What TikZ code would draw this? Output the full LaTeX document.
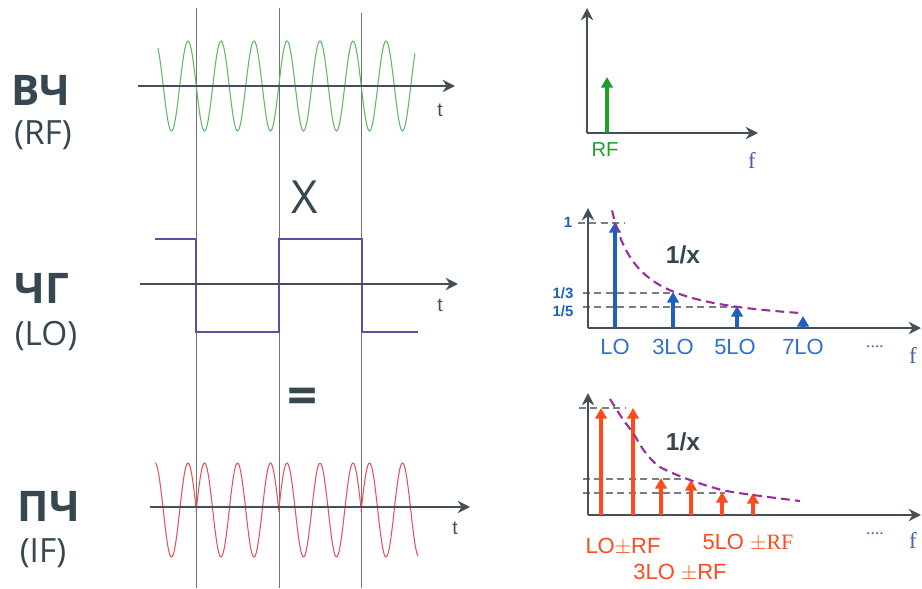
\documentclass[tikz,border=0pt]{standalone}
\usepackage{fontspec}
\setmainfont{Liberation Sans}
\newfontfamily\bigfont{Open Sans}
\newfontfamily\seriffont{Liberation Serif}
\usepackage{tikz}
\usetikzlibrary{arrows.meta}
\definecolor{textgray}{HTML}{37474F}
\definecolor{axisgray}{HTML}{454F57}
\definecolor{gridgray}{HTML}{6E7276}
\definecolor{dashgray}{HTML}{7A7E82}
\definecolor{rfgreen}{HTML}{5DB85F}
\definecolor{spgreen}{HTML}{1E9E28}
\definecolor{lopurple}{HTML}{5B4FA3}
\definecolor{ifred}{HTML}{E8505A}
\definecolor{spblue}{HTML}{1F5FBF}
\definecolor{lblblue}{HTML}{2F6FD0}
\definecolor{spred}{HTML}{FF4A1C}
\definecolor{curvepurple}{HTML}{9A2C9E}
\definecolor{fblue}{HTML}{4A5DB0}

\begin{document}
\begin{tikzpicture}[x=0.02cm, y=-0.02cm,
  axisarr/.style={-{Stealth[length=7pt,width=7pt]}, line width=1.6pt, draw=axisgray},
  gridline/.style={draw=gridgray, line width=0.45pt},
  waveline/.style={line width=0.6pt},
  specarr/.style={-{Triangle[length=6pt,width=6.5pt]}, line width=1.9pt},
  levelline/.style={dash pattern=on 4pt off 2.5pt, draw=dashgray, line width=0.9pt},
  envline/.style={dash pattern=on 5pt off 3pt, draw=curvepurple, line width=1.2pt},
  namelabel/.style={font=\bigfont\bfseries\fontsize{24}{24}\selectfont, text=textgray},
  sublabel/.style={font=\bigfont\fontsize{19}{19}\selectfont, text=textgray},
  tlabel/.style={font=\fontsize{11}{11}\selectfont, text=axisgray},
  flabel/.style={font=\seriffont\fontsize{13}{13}\selectfont, text=fblue},
  hlabel/.style={font=\fontsize{12.5}{12.5}\selectfont},
  xlabel/.style={font=\bfseries\fontsize{14}{14}\selectfont, text=textgray}
]
\useasboundingbox (0,0) rectangle (922,588);

% left names
\node[namelabel] (rfname) at (41,90) {ВЧ};
\node[sublabel] (rfsub) at (43,135) {(RF)};
\node[namelabel] (loname) at (42,288) {ЧГ};
\node[sublabel] (losub) at (46,336) {(LO)};
\node[namelabel] (ifname) at (49,506) {ПЧ};
\node[sublabel] (ifsub) at (43,553) {(IF)};

% time grid
\foreach \x/\t in {196/8, 279/8, 361/13}
  \draw[gridline] (\x,\t) -- (\x,588);

% RF wave
\coordinate (rf0) at (138,86);
\coordinate (rf1) at (455,86);
\draw[waveline, rfgreen] plot[domain=158:415, samples=220] (\x, {86-45*cos(10.9091*(\x-188))});
\draw[axisarr] (rf0) -- (rf1);
\node[tlabel] (rft) at (440,110) {t};

\node[font=\bigfont\fontsize{26}{26}\selectfont, text=textgray] (times) at (305,197) {X};

% LO square wave
\coordinate (lo0) at (140,284);
\coordinate (lo1) at (458,284);
\draw[waveline, lopurple] (155,239) -- (196,239) -- (196,332) -- (279,332)
  -- (279,239) -- (362,239) -- (362,332) -- (418,332);
\draw[axisarr] (lo0) -- (lo1);
\node[tlabel] (lot) at (440,305) {t};

\node[font=\bigfont\bfseries\fontsize{30}{30}\selectfont, text=textgray] (equals) at (303,401) {=};

% IF wave
\coordinate (if0) at (150,507);
\coordinate (if1) at (470,507);
\foreach \a/\b/\s in {155/196/1, 196/279/-1, 279/361/1, 361/418/-1}
  \draw[waveline, ifred] plot[domain=\a:\b, samples=70] (\x, {510-47*\s*cos(10.9091*(\x-188))});
\draw[axisarr] (if0) -- (if1);
\node[tlabel] (ift) at (455,528) {t};

% RF spectrum
\coordinate (sa0) at (587,133);
\coordinate (sa1) at (587,8);
\coordinate (sa2) at (758,133);
\draw[axisarr] (sa0) -- (sa1);
\draw[axisarr] (sa0) -- (sa2);
\coordinate (rfb) at (607,133);
\coordinate (rfp) at (607,77);
\draw[specarr, spgreen] (rfb) -- (rfp);
\node[hlabel, text=spgreen, font=\fontsize{11.5}{11.5}\selectfont] (rflbl) at (605,150) {RF};
\node[flabel] (fa) at (752,160) {f};

% LO spectrum
\coordinate (sb0) at (588,328);
\coordinate (sb1) at (588,208);
\coordinate (sb2) at (921,328);
\draw[levelline] (578,223) -- (625,223);
\draw[levelline] (583,293) -- (672,293);
\draw[levelline] (583,307) -- (737,307);
\node[font=\bfseries\fontsize{8.5}{8.5}\selectfont, text=spblue] (one) at (568,222) {1};
\node[font=\bfseries\fontsize{8.5}{8.5}\selectfont, text=spblue] (third) at (563,293) {1/3};
\node[font=\bfseries\fontsize{8.5}{8.5}\selectfont, text=spblue] (fifth) at (563,311) {1/5};
\draw[axisarr] (sb0) -- (sb1);
\draw[axisarr] (sb0) -- (sb2);
\foreach \x/\t/\n in {615/222/LO, 673/292/3LO, 737/306/5LO, 803/316/7LO} {
  \coordinate (b\n) at (\x,328);
  \coordinate (t\n) at (\x,\t);
  \draw[specarr, spblue] (b\n) -- (t\n);
}
\draw[envline] plot[domain=612:800, samples=80] (\x, {328-3233/(\x-584.5)});
\node[xlabel] (invb) at (683,255) {1/x};
\foreach \x/\n in {615/LO, 673/3LO, 735/5LO, 803/7LO}
  \node[hlabel, text=lblblue] (l\n) at (\x,347) {\n};
\node[flabel, font=\seriffont\fontsize{10}{10}\selectfont] (dotsb) at (875,347) {....};
\node[flabel] (fb) at (913,355) {f};

% IF spectrum
\coordinate (sc0) at (588,515);
\coordinate (sc1) at (588,393);
\coordinate (sc2) at (921,515);
\draw[levelline] (579,408) -- (625,408);
\draw[levelline] (583,479) -- (687,479);
\draw[levelline] (583,493) -- (725,493);
\draw[axisarr] (sc0) -- (sc1);
\draw[axisarr] (sc0) -- (sc2);
\foreach \x/\t [count=\i] in {601/408, 633/408, 661/478, 691/480, 722/492, 753/493} {
  \coordinate (c\i) at (\x,515);
  \coordinate (d\i) at (\x,\t);
  \draw[specarr, spred] (c\i) -- (d\i);
}
\draw[envline] plot[smooth] coordinates {(610,399) (622,418) (633,433) (645,452)
  (660,467) (690,480) (722,490) (753,495) (800,501)};
\node[xlabel] (invc) at (683,442) {1/x};
\node[hlabel, text=spred] (sum1) at (623,547) {LO$\pm$RF};
\node[hlabel, text=spred] (sum5) at (748,543) {5LO {\seriffont$\pm$RF}};
\node[hlabel, text=spred] (sum3) at (680,573) {3LO $\pm$RF};
\node[flabel, font=\seriffont\fontsize{10}{10}\selectfont] (dotsc) at (875,534) {....};
\node[flabel] (fc) at (913,540) {f};
\end{tikzpicture}
\end{document}
